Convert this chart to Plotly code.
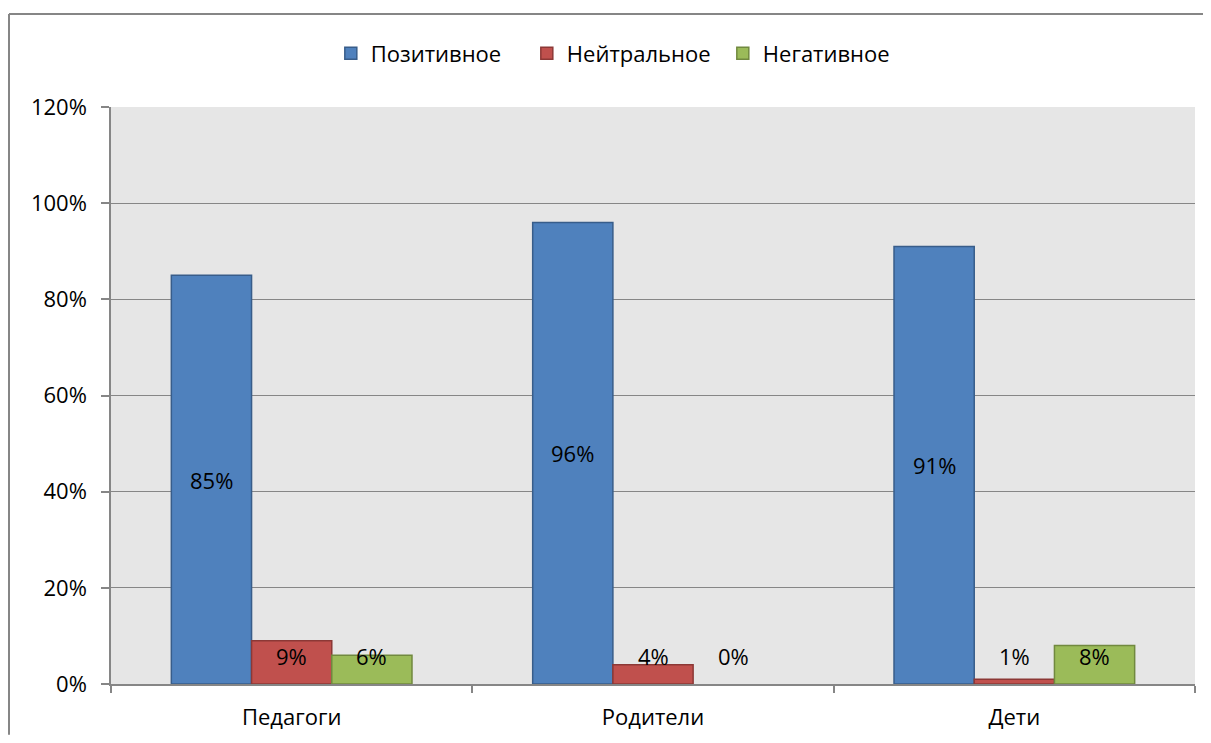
import plotly.graph_objects as go

categories = ["Педагоги", "Родители", "Дети"]
series_names = ["Позитивное", "Нейтральное", "Негативное"]
positive = [0.85, 0.96, 0.91]
neutral = [0.09, 0.04, 0.01]
negative = [0.06, 0.00, 0.08]
y_ticks = [0, 0.2, 0.4, 0.6, 0.8, 1.0, 1.2]

fills = ["#4F81BD", "#C0504D", "#9BBB59"]
lines = ["#385D8A", "#8C3836", "#71893F"]
bar_w = 0.222
offsets = [-bar_w, 0.0, bar_w]
FONT = "Open Sans"
FS = 22

fig = go.Figure()
annotations = []
for s, (name, vals) in enumerate(zip(series_names, [positive, neutral, negative])):
    xs = [i + offsets[s] for i in range(len(categories))]
    fig.add_trace(go.Bar(
        x=xs, y=vals, width=bar_w, name=name,
        marker=dict(color=fills[s],
                    line=dict(color=lines[s], width=[1.5 if v > 0 else 0 for v in vals])),
        hoverinfo="y",
    ))
    for x, v in zip(xs, vals):
        annotations.append(dict(
            x=x, y=max(v / 2, 0.058), xref="x", yref="y",
            text=f"{round(v * 100)}%", showarrow=False,
            font=dict(family=FONT, size=FS, color="#000000"),
        ))

grey = "#868686"
fig.update_layout(
    width=1195, height=727,
    margin=dict(l=103, r=8, t=99, b=51, autoexpand=False),
    paper_bgcolor="#FFFFFF",
    plot_bgcolor="#E6E6E6",
    barmode="overlay",
    font=dict(family=FONT, size=FS, color="#000000"),
    showlegend=True,
    legend=dict(orientation="h", x=0.474, xanchor="center", y=1.093, yanchor="middle",
                font=dict(family=FONT, size=FS), itemwidth=30, entrywidth=151,
                traceorder="normal"),
    annotations=annotations,
    xaxis=dict(
        range=[-0.5, 2.5], tickmode="array", tickvals=list(range(len(categories))),
        ticktext=categories, ticks="", showgrid=False, zeroline=False,
        showline=True, linecolor=grey, linewidth=1.5, automargin=False,
        ticklabelstandoff=13,
        minor=dict(tickmode="array", tickvals=[-0.5, 0.5, 1.5, 2.5], ticks="outside",
                   ticklen=7, tickcolor=grey, tickwidth=1.5, showgrid=False),
    ),
    yaxis=dict(
        range=[0, 1.2], tickmode="array", tickvals=y_ticks, tickformat=".0%",
        ticks="outside", ticklen=8, tickcolor=grey, tickwidth=1.5, automargin=False,
        showgrid=True, gridcolor=grey, gridwidth=1.2, zeroline=False,
        showline=True, linecolor=grey, linewidth=1.5, ticklabelstandoff=10,
    ),
    shapes=[
        dict(type="line", xref="paper", yref="paper", x0=-0.0941, x1=-0.0941, y0=1.161, y1=-0.088,
             line=dict(color=grey, width=2)),
        dict(type="line", xref="paper", yref="paper", x0=-0.0941, x1=1.0074, y0=1.161, y1=1.161,
             line=dict(color=grey, width=2)),
    ],
)

fig.write_html("out.html", config={"displayModeBar": False})
